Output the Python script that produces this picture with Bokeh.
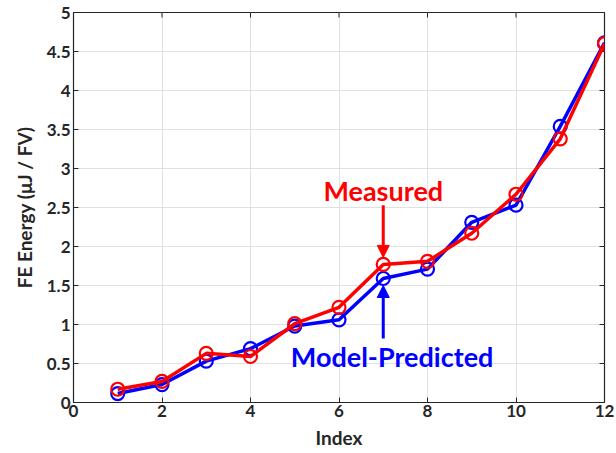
import math
from bokeh.plotting import figure
from bokeh.models import (Range1d, FixedTicker, Arrow, NormalHead, Label)
from bokeh.embed import file_html
from bokeh.resources import INLINE

index = [1, 2, 3, 4, 5, 6, 7, 8, 9, 10, 11, 12]
model_predicted = [0.115, 0.23, 0.53, 0.69, 0.98, 1.06, 1.59, 1.71, 2.31, 2.53, 3.54, 4.61]
measured = [0.17, 0.27, 0.63, 0.59, 1.01, 1.22, 1.77, 1.81, 2.17, 2.67, 3.38, 4.60]
x_ticks = [0, 2, 4, 6, 8, 10, 12]
y_ticks = [0, 0.5, 1, 1.5, 2, 2.5, 3, 3.5, 4, 4.5, 5]
x_min, x_max = 0, 12
y_min, y_max = 0, 5

FONT = "Lato"
DARK = "#262626"

p = figure(width=616, height=453, output_backend="svg", toolbar_location=None,
           x_range=Range1d(x_min, x_max), y_range=Range1d(y_min, y_max),
           min_border_left=73, min_border_right=12, min_border_top=12, min_border_bottom=51)
p.outline_line_color = DARK
p.outline_line_width = 1.2
p.background_fill_color = "white"
p.border_fill_color = "white"

for ax in (p.xaxis[0], p.yaxis[0]):
    ax.major_label_text_font = FONT
    ax.major_label_text_font_style = "bold"
    ax.major_label_text_font_size = "17px"
    ax.major_label_text_color = DARK
    ax.axis_label_text_font = FONT
    ax.axis_label_text_font_style = "bold"
    ax.axis_label_text_font_size = "19px"
    ax.axis_label_text_color = DARK
    ax.axis_line_color = DARK
    ax.major_tick_line_color = DARK
    ax.major_tick_in = 5
    ax.major_tick_out = 0
    ax.minor_tick_line_color = None

p.xaxis[0].ticker = FixedTicker(ticks=x_ticks)
p.yaxis[0].ticker = FixedTicker(ticks=y_ticks)
p.xaxis[0].axis_label = "Index"
p.yaxis[0].axis_label = "FE Energy (μJ / FV)"
p.xaxis[0].major_label_standoff = 2
p.yaxis[0].major_label_standoff = 3
p.xaxis[0].axis_label_standoff = 6
p.yaxis[0].axis_label_standoff = 8

p.xgrid.ticker = FixedTicker(ticks=x_ticks)
p.ygrid.ticker = FixedTicker(ticks=y_ticks)
p.grid.grid_line_color = "#d9d9d9"
p.grid.grid_line_alpha = 0.8

# mirrored ticks on the top and right edges of the box (clipped to the frame)
p.scatter(x_ticks, [y_max] * len(x_ticks), marker="dash", angle=math.pi / 2, size=10,
          line_color=DARK, line_width=1)
p.scatter([x_max] * len(y_ticks), y_ticks, marker="dash", size=10,
          line_color=DARK, line_width=1)

p.line(index, model_predicted, line_color="#0000ff", line_width=3.5)
p.scatter(index, model_predicted, marker="circle", size=13, fill_color=None,
          line_color="#0000ff", line_width=2.2)
p.line(index, measured, line_color="#ff0000", line_width=3.5)
p.scatter(index, measured, marker="circle", size=13, fill_color=None,
          line_color="#ff0000", line_width=2.2)

# annotations
p.add_layout(Arrow(end=NormalHead(size=12, fill_color="#ff0000", line_color="#ff0000"),
                   x_start=7, y_start=2.53, x_end=7, y_end=1.86,
                   line_color="#ff0000", line_width=3))
p.add_layout(Arrow(end=NormalHead(size=12, fill_color="#0000ff", line_color="#0000ff"),
                   x_start=7, y_start=0.82, x_end=7, y_end=1.50,
                   line_color="#0000ff", line_width=3))
p.add_layout(Label(x=7.0, y=2.72, text="Measured", text_font=FONT, text_font_style="bold",
                   text_font_size="27px", text_color="#ff0000",
                   text_align="center", text_baseline="middle"))
p.add_layout(Label(x=7.2, y=0.59, text="Model-Predicted", text_font=FONT, text_font_style="bold",
                   text_font_size="27px", text_color="#0000ff",
                   text_align="center", text_baseline="middle"))

open("out.html", "w").write(file_html(p, INLINE))
